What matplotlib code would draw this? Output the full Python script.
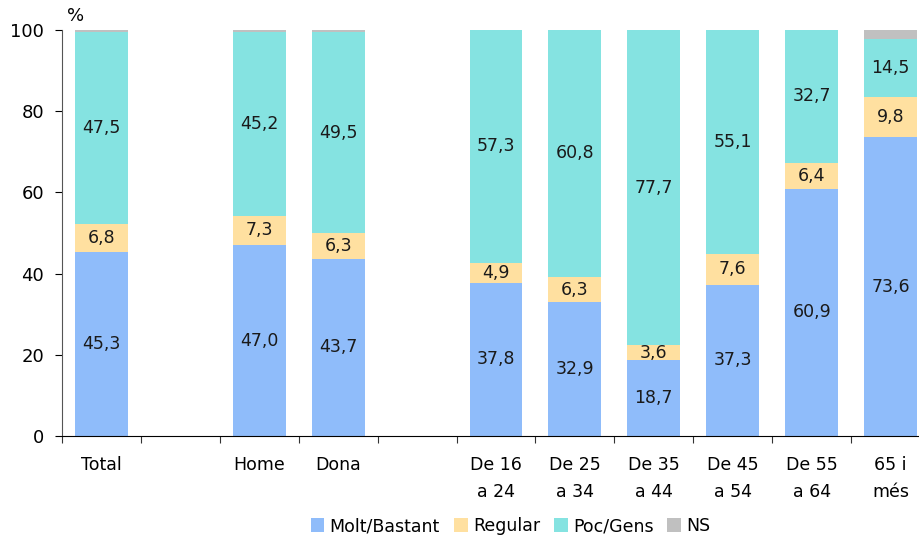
import numpy as np
import matplotlib
matplotlib.use('Agg')
import matplotlib.pyplot as plt

# categories (empty strings are the gaps between groups)
categories = ['Total', '', 'Home', 'Dona', '', 'De 16\na 24', 'De 25\na 34',
              'De 35\na 44', 'De 45\na 54', 'De 55\na 64', '65 i\nmés']
molt = [45.3, None, 47.0, 43.7, None, 37.8, 32.9, 18.7, 37.3, 60.9, 73.6]
regular = [6.8, None, 7.3, 6.3, None, 4.9, 6.3, 3.6, 7.6, 6.4, 9.8]
poc = [47.5, None, 45.2, 49.5, None, 57.3, 60.8, 77.7, 55.1, 32.7, 14.5]
ns = [0.4, None, 0.5, 0.5, None, 0.0, 0.0, 0.0, 0.0, 0.0, 2.1]

series = ['Molt/Bastant', 'Regular', 'Poc/Gens', 'NS']
colors = ['#8fbcfa', '#ffe0a0', '#85e3e1', '#c0c0c0']
show_label = [True, True, True, False]

fig = plt.figure(figsize=(9.2, 5.39), dpi=100)
ax = fig.add_axes([62/920, 103/539, 868/920, 406/539])

idx = [i for i, v in enumerate(molt) if v is not None]
x = np.array(idx, dtype=float)
bottom = np.zeros(len(idx))
handles = []
for name, vals, col, lab in zip(series, [molt, regular, poc, ns], colors, show_label):
    v = np.array([vals[i] for i in idx])
    b = ax.bar(x, v, width=0.67, bottom=bottom, color=col, label=name, linewidth=0)
    handles.append(b)
    if lab:
        for xi, vi, bi in zip(x, v, bottom):
            ax.text(xi, bi + vi/2, ('%.1f' % vi).replace('.', ','),
                    ha='center', va='center', fontsize=12.5, color='#1a1a1a')
    bottom += v

ax.set_xlim(-0.5, 10.5)
ax.set_ylim(0, 100)
ax.set_yticks([0, 20, 40, 60, 80, 100])
ax.tick_params(axis='y', labelsize=13, direction='out', length=5, pad=8)
ax.set_xticks(np.arange(-0.5, 10.5, 1.0))
ax.set_xticklabels([])
ax.tick_params(axis='x', direction='out', length=5, color='#333333')
for i, c in enumerate(categories):
    ax.text(i, -5.0, c, ha='center', va='top', fontsize=12.5, linespacing=1.6)
for s in ['top', 'right']:
    ax.spines[s].set_visible(False)
ax.spines['left'].set_color('#555555')
ax.text(0.006, 1.012, '%', transform=ax.transAxes, fontsize=13, ha='left', va='bottom')

fig.legend(handles=handles, labels=series, loc='lower center', ncol=4,
           bbox_to_anchor=(0.555, -0.022), frameon=False, fontsize=12.5,
           handlelength=0.8, handleheight=0.9, handletextpad=0.3, columnspacing=0.8)

plt.savefig('out.png', dpi=100)
